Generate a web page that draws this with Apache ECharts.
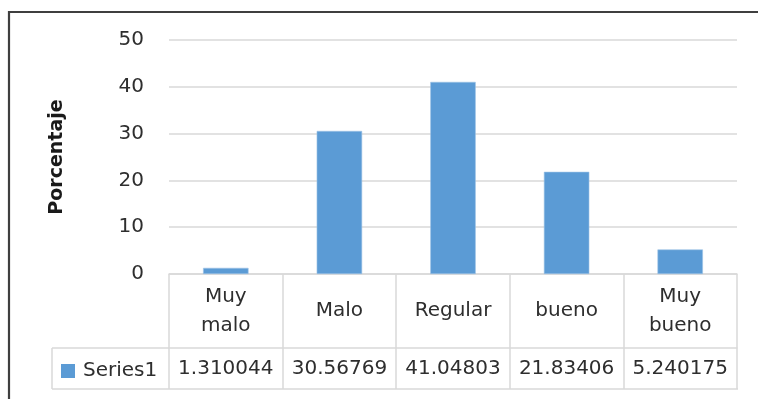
<!DOCTYPE html>
<html>
<head>
<meta charset="utf-8">
<script src="https://cdn.jsdelivr.net/npm/echarts@6/dist/echarts.min.js"></script>
<style>
  html, body { margin: 0; padding: 0; background: #ffffff; }
  #chart { width: 758px; height: 399px; }
</style>
</head>
<body>
<div id="chart"></div>
<script>
// Rating categories and the share of answers for each one
const categories = ['Muy\nmalo', 'Malo', 'Regular', 'bueno', 'Muy\nbueno'];
const series1 = [1.310044, 30.56769, 41.04803, 21.83406, 5.240175];
const valueLabels = ['1.310044', '30.56769', '41.04803', '21.83406', '5.240175'];
const yTicks = [0, 10, 20, 30, 40, 50];

const FONT = 'DejaVu Sans';
const TEXT = '#2e2e2e';
const RULE = '#d9d9d9';

const chart = echarts.init(document.getElementById('chart'), null, { renderer: 'canvas' });

chart.setOption({
  animation: false,
  backgroundColor: '#ffffff',
  grid: { left: 169, right: 21, top: 40, bottom: 125, containLabel: false },
  legend: {
    data: ['Series1'],
    left: 61,
    top: 361,
    icon: 'rect',
    itemWidth: 14,
    itemHeight: 14,
    itemGap: 0,
    padding: 0,
    itemStyle: { borderWidth: 0 },
    textStyle: { fontFamily: FONT, fontSize: 20, color: TEXT, padding: [0, 0, 0, 3] }
  },
  xAxis: [
    {
      type: 'category',
      data: categories,
      position: 'bottom',
      axisLine: { show: true, lineStyle: { color: RULE, width: 1.5 } },
      axisTick: { show: true, length: 115, lineStyle: { color: RULE, width: 1.5 } },
      axisLabel: {
        fontFamily: FONT, fontSize: 20, color: TEXT, lineHeight: 29,
        verticalAlign: 'middle', margin: 37, interval: 0
      },
      splitLine: { show: false }
    },
    {
      type: 'category',
      data: categories,
      position: 'bottom',
      offset: 74,
      axisLine: { show: true, lineStyle: { color: RULE, width: 1.5 } },
      axisTick: { show: false },
      axisLabel: {
        fontFamily: FONT, fontSize: 20, color: TEXT,
        verticalAlign: 'middle', margin: 21, interval: 0,
        formatter: (v, i) => valueLabels[i]
      },
      splitLine: { show: false }
    }
  ],
  yAxis: {
    type: 'value',
    min: yTicks[0],
    max: yTicks[yTicks.length - 1],
    interval: 10,
    name: 'Porcentaje',
    nameLocation: 'middle',
    nameRotate: 90,
    nameGap: 102,
    nameTextStyle: { fontFamily: FONT, fontSize: 19, fontWeight: 'bold', color: '#1a1a1a' },
    axisLine: { show: false },
    axisTick: { show: false },
    axisLabel: { fontFamily: FONT, fontSize: 20, color: TEXT, margin: 25 },
    splitLine: { show: true, lineStyle: { color: RULE, width: 1.5 } }
  },
  series: [
    {
      name: 'Series1',
      type: 'bar',
      xAxisIndex: 0,
      data: series1,
      barWidth: '40%',
      itemStyle: { color: '#5b9bd5', borderColor: '#9dc3e6', borderWidth: 0.6 }
    }
  ],
  graphic: [
    // outer chart frame (continues past the right and bottom edges)
    { type: 'rect', shape: { x: 9, y: 12, width: 900, height: 600 },
      style: { fill: null, stroke: '#3f3f3f', lineWidth: 2.2 }, silent: true, z: 10 },
    // data table chrome to the left of the plot and along the bottom
    { type: 'line', shape: { x1: 52, y1: 348, x2: 169, y2: 348 },
      style: { stroke: RULE, lineWidth: 1.5 }, silent: true },
    { type: 'line', shape: { x1: 52, y1: 389, x2: 738, y2: 389 },
      style: { stroke: RULE, lineWidth: 1.5 }, silent: true },
    { type: 'line', shape: { x1: 52, y1: 348, x2: 52, y2: 389 },
      style: { stroke: RULE, lineWidth: 1.5 }, silent: true }
  ]
});
</script>
</body>
</html>
